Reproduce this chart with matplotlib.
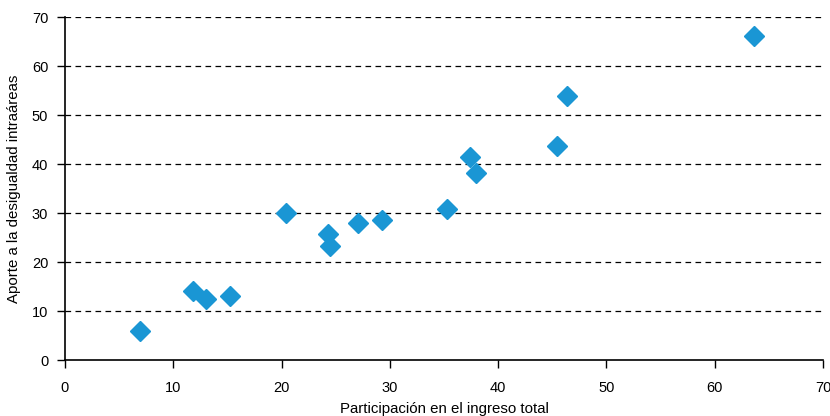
import matplotlib
matplotlib.use("Agg")
import matplotlib.pyplot as plt

# participación en el ingreso total vs aporte a la desigualdad intraáreas
participacion = [6.9, 11.8, 13.0, 15.2, 20.4, 24.3, 24.5, 27.1, 29.3, 35.3, 37.4, 38.0, 45.4, 46.4, 63.6]
aporte = [5.9, 14.1, 12.4, 13.1, 30.0, 25.7, 23.3, 28.0, 28.6, 30.8, 41.4, 38.2, 43.7, 53.9, 66.1]
ticks = [0, 10, 20, 30, 40, 50, 60, 70]

plt.rcParams['font.family'] = ['Liberation Sans', 'DejaVu Sans']

fig = plt.figure(figsize=(8.3, 4.16), dpi=100)
ax = fig.add_axes([0.0783, 0.1346, 0.9133, 0.8244])

for y in ticks[1:]:
    ax.axhline(y, color='black', lw=0.9, ls=(0, (4.5, 3.5)), zorder=1)

ax.plot(participacion, aporte, ls='none', marker='D', ms=10, color='#1a96d4', zorder=3)

ax.set_xlim(0, 70)
ax.set_ylim(0, 70)
ax.set_xticks(ticks)
ax.set_yticks(ticks)
ax.tick_params(axis='both', labelsize=10.5, direction='out', length=6, width=1, colors='black')
ax.tick_params(axis='x', pad=9)
ax.tick_params(axis='y', pad=6)
for s in ['top', 'right']:
    ax.spines[s].set_visible(False)
for s in ['left', 'bottom']:
    ax.spines[s].set_linewidth(1.2)

ax.set_xlabel('Participación en el ingreso total', fontsize=10.8, labelpad=5)
ax.set_ylabel('Aporte a la desigualdad intraáreas', fontsize=10.8, labelpad=8)

fig.savefig('out.png', dpi=100)
